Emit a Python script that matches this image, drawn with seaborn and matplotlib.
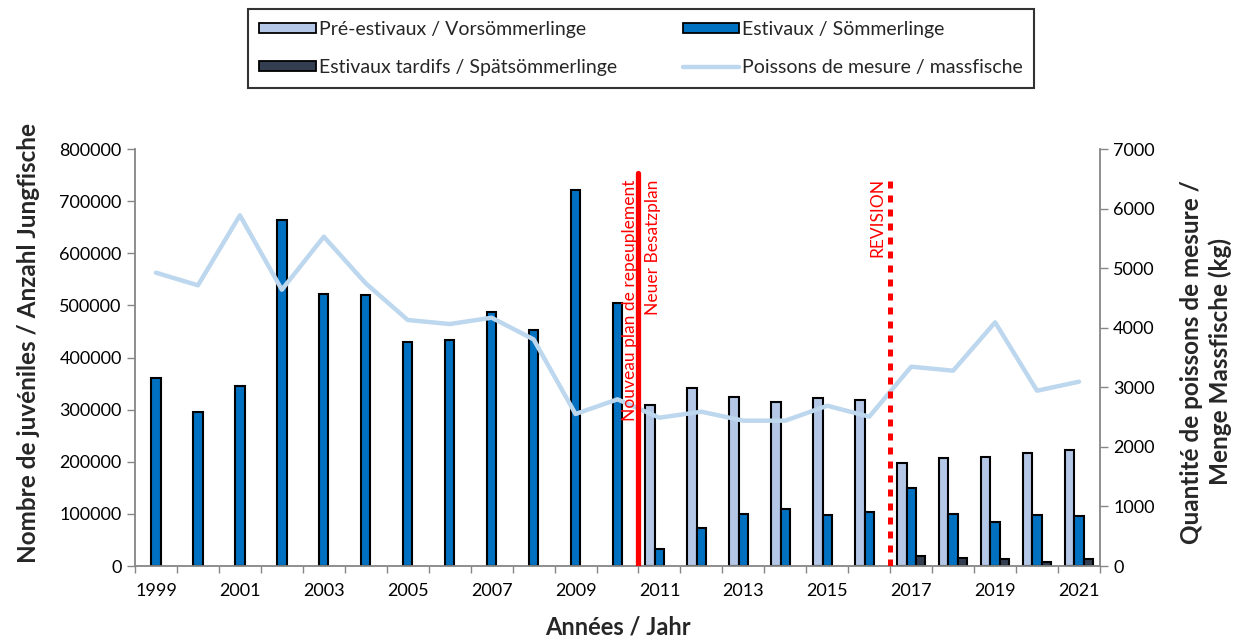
import numpy as np
import pandas as pd
import matplotlib
matplotlib.use("Agg")
import matplotlib.pyplot as plt
import seaborn as sns
from matplotlib.patches import Patch
from matplotlib.lines import Line2D

nan = np.nan
years = list(range(1999, 2022))
pre_estivaux = [nan] * 12 + [309000, 342000, 325000, 314000, 322000, 318000,
                             198000, 208000, 210000, 217000, 222000]
estivaux = [360000, 296000, 346000, 663000, 522000, 519000, 430000, 434000,
            487000, 452000, 722000, 504000, 32600, 73500, 99800, 109000,
            97200, 104000, 149000, 100400, 85000, 97800, 95300]
estivaux_tardifs = [nan] * 18 + [18500, 14700, 13400, 7000, 13400]
poissons_mesure = [4924, 4712, 5887, 4638, 5528, 4745, 4130, 4062, 4168, 3805,
                   2552, 2798, 2490, 2590, 2440, 2440, 2691, 2507, 3346, 3279,
                   4091, 2943, 3094]

series_names = ["Pré-estivaux / Vorsömmerlinge", "Estivaux / Sömmerlinge",
                "Estivaux tardifs / Spätsömmerlinge"]
line_name = "Poissons de mesure / massfische"
bar_colors = ["#B4C7E7", "#0070C0", "#333F50"]
line_color = "#BDD7EE"

rows = []
for name, vals in zip(series_names, [pre_estivaux, estivaux, estivaux_tardifs]):
    for y, v in zip(years, vals):
        rows.append({"year": str(y), "series": name, "value": v})
df = pd.DataFrame(rows)

sns.set_theme(style="white")
plt.rcParams["font.family"] = ["Lato", "DejaVu Sans"]

fig, ax = plt.subplots(figsize=(12.5, 6.39), dpi=100)
fig.subplots_adjust(left=0.108, right=0.88, bottom=0.1142, top=0.7668)

sns.barplot(data=df, x="year", y="value", hue="series", hue_order=series_names,
            order=[str(y) for y in years], palette=bar_colors, width=0.67,
            edgecolor="black", linewidth=1.5, errorbar=None, legend=False,
            ax=ax, saturation=1)

ax2 = ax.twinx()
sns.lineplot(x=np.arange(len(years)), y=poissons_mesure, ax=ax2,
             color=line_color, linewidth=3.2)

ax.set_xlim(-0.5, len(years) - 0.5)
ax.set_ylim(0, 800000)
ax2.set_ylim(0, 7000)

gray = "#868686"
# x ticks
ax.set_xticks(np.arange(0, len(years), 2))
ax.set_xticklabels([str(y) for y in years[::2]])
ax.set_xticks(np.arange(-0.5, len(years), 1), minor=True)
ax.tick_params(axis="x", which="major", length=0, pad=12, labelsize=13,
               labelcolor="#000000")
ax.tick_params(axis="x", which="minor", length=5, width=1, color=gray,
               bottom=True, direction="out")
# y ticks
ax.set_yticks(np.arange(0, 800001, 100000))
ax.set_yticklabels([str(v) for v in range(0, 800001, 100000)])
ax.tick_params(axis="y", which="major", length=6, width=1, color=gray,
               left=True, direction="out", labelsize=13, labelcolor="#000000")
ax2.set_yticks(np.arange(0, 7001, 1000))
ax2.set_yticklabels([str(v) for v in range(0, 7001, 1000)])
ax2.tick_params(axis="y", which="major", length=6, width=1, color=gray,
                right=True, direction="out", labelsize=13, labelcolor="#000000")

for a in (ax, ax2):
    a.spines["top"].set_visible(False)
    for s in ("left", "right", "bottom"):
        a.spines[s].set_color(gray)
        a.spines[s].set_linewidth(1.3)
ax.spines["right"].set_visible(False)
ax2.spines["left"].set_visible(False)
ax2.spines["bottom"].set_visible(False)

ax.set_xlabel("Années / Jahr", fontsize=17, fontweight="bold", labelpad=12)
ax.set_ylabel("Nombre de juvéniles / Anzahl Jungfische", fontsize=17.5,
              fontweight="bold", labelpad=14)
ax.yaxis.label.set_y(0.535)
ax2.set_ylabel("Quantité de poissons de mesure /\nMenge Massfische (kg)",
               fontsize=17.5, fontweight="bold", labelpad=18, linespacing=1.3)
ax2.yaxis.label.set_y(0.49)

# red reference lines and annotations
ax2.axvline(11.5, ymin=0, ymax=754000 / 800000, color="#FF0000", lw=3.8,
            zorder=5)
ax2.axvline(17.5, ymin=0, ymax=750000 / 800000, color="#FF0000", lw=3.6,
            linestyle=(0, (1.4, 1.4)), zorder=5)
ax2.text(11.29, 742000, "Nouveau plan de repeuplement", transform=ax.transData,
         rotation=90, ha="center", va="top", color="#FF0000", fontsize=12.5,
         zorder=6)
ax2.text(11.84, 742000, "Neuer Besatzplan", transform=ax.transData,
         rotation=90, ha="center", va="top", color="#FF0000", fontsize=12.5,
         zorder=6)
ax2.text(17.19, 745000, "REVISION", transform=ax.transData,
         rotation=90, ha="center", va="top", color="#FF0000", fontsize=12.5,
         zorder=6)

handles = [Patch(facecolor=bar_colors[0], edgecolor="black", lw=1.3),
           Patch(facecolor=bar_colors[2], edgecolor="black", lw=1.3),
           Patch(facecolor=bar_colors[1], edgecolor="black", lw=1.3),
           Line2D([0], [0], color=line_color, lw=3.2)]
labels = [series_names[0], series_names[2], series_names[1], line_name]
leg = fig.legend(handles, labels, ncol=2, loc="upper center",
                 bbox_to_anchor=(641 / 1250, 1 - 9 / 639), frameon=True,
                 fancybox=False, edgecolor="black", fontsize=14,
                 handlelength=2.9, handleheight=0.45, handletextpad=0.15,
                 columnspacing=3.4, labelspacing=1.1, borderpad=0.6,
                 borderaxespad=0)
leg.get_frame().set_linewidth(1.5)

fig.savefig("out.png", dpi=100)
